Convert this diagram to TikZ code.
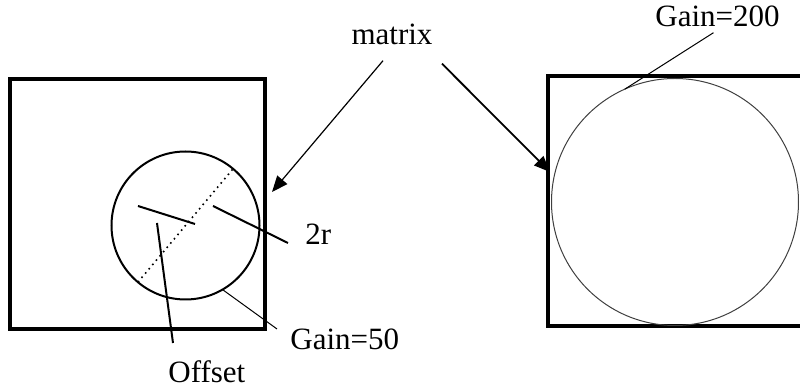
\documentclass[tikz,border=0pt]{standalone}
\usepackage{fontspec}
\setmainfont{Liberation Serif}
\usetikzlibrary{arrows.meta}

\begin{document}
\begin{tikzpicture}[
    x=0.5pt, y=-0.5pt,
    frame/.style={draw, line width=2pt},
    disc/.style={draw, circle, inner sep=0pt, outer sep=0pt},
    lbl/.style={inner sep=0pt, font=\fontsize{15.5}{18}\selectfont},
    arr/.style={-{Triangle[length=8pt,width=6.5pt]}},
    lead/.style={line width=0.5pt},
    bar/.style={line width=1pt}
]
\useasboundingbox (0,0) rectangle (800,389);
\clip (0,0) rectangle (800,389);
% the two matrices
\draw[frame] (10.3,78.7) rectangle (264.7,329);
\draw[frame] (548,76) rectangle (815,326);
\node[disc, line width=1pt, minimum size=74pt] (lcirc) at (185.5,225.5) {};
\node[disc, draw=black!75, line width=0.5pt, minimum size=123.5pt] (rcirc) at (675,202) {};
% labels
\node[lbl, anchor=base] (matrix) at (392,45) {matrix};
\node[lbl, anchor=base] (gainbig) at (717.5,27) {Gain=200};
\node[lbl, anchor=base west] (diam) at (305,245) {2r};
\node[lbl, anchor=base west] (gainsmall) at (290,350) {Gain=50};
\node[lbl, anchor=base west] (offset) at (168,383) {Offset};
% free ends
\coordinate (mleft) at ([shift={(-9,15)}]matrix.south);
\coordinate (mright) at ([shift={(50,18)}]matrix.south);
\coordinate (ltip) at (272,192);
\coordinate (rtip) at (550,172);
\coordinate (dstart) at (213,206);
\coordinate (dend) at (288,243);
\coordinate (ostart) at (157,223);
\coordinate (oend) at (173,343);
% diameter and offset marks
\draw[dotted, line width=0.8pt] (lcirc.230) -- (lcirc.50);
\draw[bar] (138,206) -- (195,224);
% connectors
\draw[arr, line width=0.6pt] (mleft) -- (ltip);
\draw[arr, line width=0.9pt] (mright) -- (rtip);
\draw[lead] ([shift={(-4,5)}]gainbig.south) -- (rcirc.114);
\draw[lead] (lcirc.-60) -- ([shift={(-13,0)}]gainsmall.north west);
\draw[bar] (dstart) -- (dend);
\draw[bar] (ostart) -- (oend);
\end{tikzpicture}
\end{document}
